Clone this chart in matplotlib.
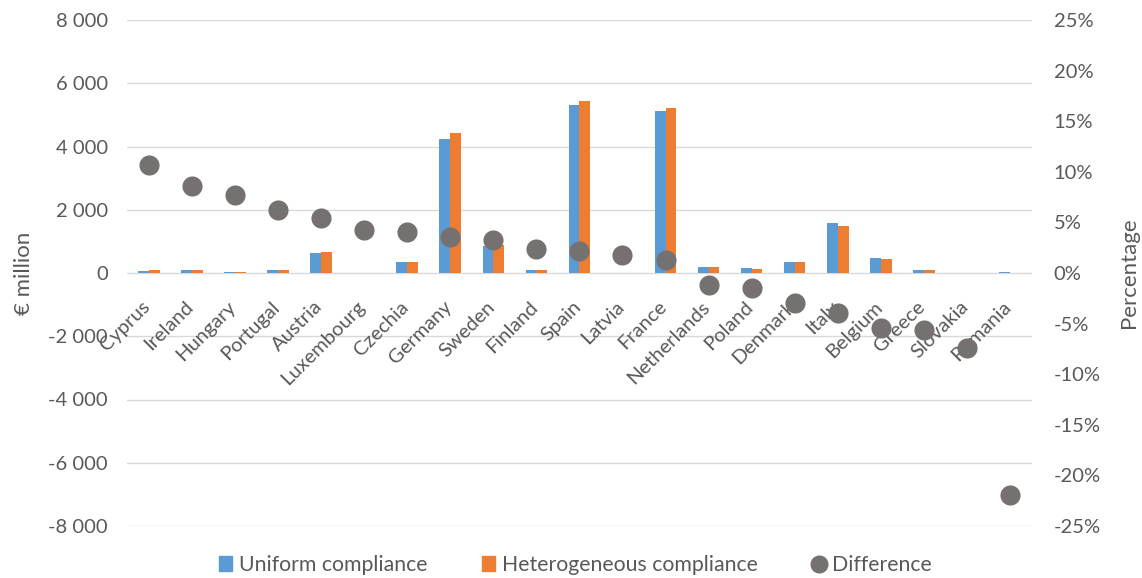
import numpy as np
import matplotlib.pyplot as plt
from matplotlib import transforms
from matplotlib.patches import Patch
from matplotlib.lines import Line2D
from matplotlib.ticker import FuncFormatter

plt.rcParams['font.family'] = ['Lato', 'DejaVu Sans']

countries = ['Cyprus', 'Ireland', 'Hungary', 'Portugal', 'Austria', 'Luxembourg', 'Czechia',
             'Germany', 'Sweden', 'Finland', 'Spain', 'Latvia', 'France', 'Netherlands',
             'Poland', 'Denmark', 'Italy', 'Belgium', 'Greece', 'Slovakia', 'Romania']
uniform = [70, 90, 30, 80, 630, 10, 340, 4240, 860, 100, 5310, 15, 5130, 190,
           150, 360, 1590, 470, 100, 10, 30]
heterogeneous = [80, 100, 30, 90, 670, 10, 360, 4420, 900, 110, 5440, 15, 5220, 200,
                 140, 350, 1500, 440, 100, 10, 15]
difference = [10.7, 8.6, 7.7, 6.2, 5.4, 4.2, 4.1, 3.6, 3.3, 2.4, 2.2, 1.8, 1.3, -1.2,
              -1.5, -3.0, -4.0, -5.4, -5.6, -7.4, -21.9]

blue = '#5B9BD5'
orange = '#ED7D31'
grey = '#767171'
txt = '#595959'
fs = 14.5

fig = plt.figure(figsize=(11.42, 5.78), dpi=100)
ax = fig.add_axes([127.3 / 1142, 52 / 578, (1031.5 - 127.3) / 1142, 506 / 578])
ax2 = ax.twinx()

x = np.arange(len(countries))
w = 0.25
ax.bar(x - w / 2, uniform, w, color=blue, zorder=2)
ax.bar(x + w / 2, heterogeneous, w, color=orange, zorder=2)
ax2.scatter(x, difference, s=210, color=grey, zorder=3, linewidths=0)

ax.set_xlim(-0.5, len(countries) - 0.5)
ax.set_ylim(-8000, 8000)
ax.set_yticks(np.arange(-8000, 8001, 2000))
ax.yaxis.set_major_formatter(FuncFormatter(lambda v, p: f'{int(v):,}'.replace(',', ' ')))
ax2.set_ylim(-25, 25)
ax2.set_yticks(np.arange(-25, 26, 5))
ax2.yaxis.set_major_formatter(FuncFormatter(lambda v, p: f'{int(v)}%'))

ax.grid(axis='y', color='#D9D9D9', linewidth=1, zorder=0)
ax.set_axisbelow(True)
for a in (ax, ax2):
    for s in a.spines.values():
        s.set_visible(False)
ax.set_xticks([])
ax.tick_params(axis='y', length=0, labelsize=fs, labelcolor=txt, pad=14)
ax2.tick_params(axis='y', length=0, labelsize=fs, labelcolor=txt, pad=16)

ax.set_ylabel('€ million', fontsize=16, color=txt, labelpad=10)
ax2.set_ylabel('Percentage', fontsize=16, color=txt, labelpad=13)

# category labels under the zero line
for i, c in enumerate(countries):
    tr = transforms.offset_copy(ax.transData, fig=fig, x=4.5, y=-25, units='dots')
    ax.text(i, 0, c, rotation=45, ha='right', va='top', fontsize=fs, color=txt,
            transform=tr, clip_on=False, zorder=1)

handles = [Patch(color=blue, label='Uniform compliance'),
           Patch(color=orange, label='Heterogeneous compliance'),
           Line2D([], [], marker='o', linestyle='none', color=grey, markersize=12,
                  label='Difference')]
leg = fig.legend(handles=handles, loc='center', bbox_to_anchor=(0.504, 0.022), ncol=3,
                 frameon=False, fontsize=15.3, columnspacing=2.55, handlelength=0.6,
                 handleheight=0.7, handletextpad=0.35)
for t in leg.get_texts():
    t.set_color(txt)

fig.savefig('out.png', dpi=100)
